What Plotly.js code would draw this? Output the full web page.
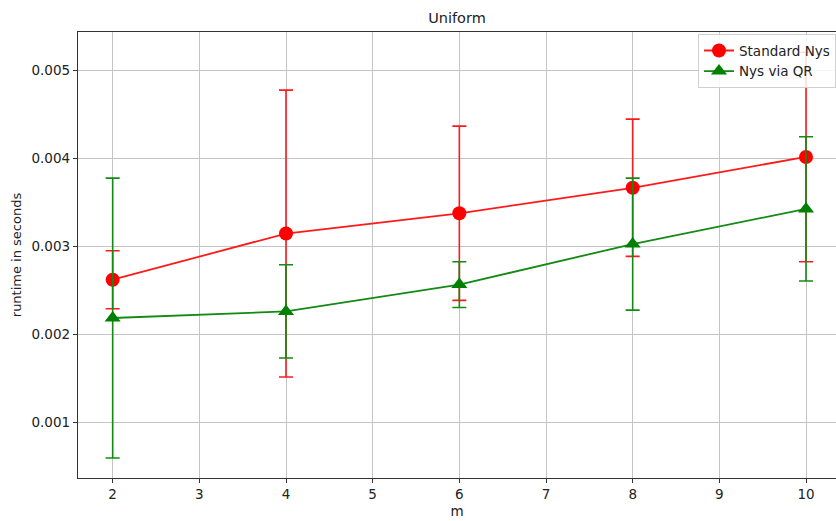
<!DOCTYPE html>
<html>
<head>
<meta charset="utf-8">
<script src="https://cdn.plot.ly/plotly-3.0.1.min.js"></script>
<style>html,body{margin:0;padding:0;background:#fff;}#chart{width:836px;height:521px;}</style>
</head>
<body>
<div id="chart"></div>
<script>
const m = [2, 4, 6, 8, 10];
const standardNys = [0.002625, 0.00315, 0.00338, 0.00367, 0.00402];
const standardNysErr = [0.00033, 0.00163, 0.00099, 0.00078, 0.00119];
const nysViaQR = [0.00219, 0.002265, 0.00257, 0.00303, 0.00343];
const nysViaQRErr = [0.00159, 0.00053, 0.00026, 0.00075, 0.00082];
const yTicks = [0.001, 0.002, 0.003, 0.004, 0.005];
const yTickLabels = ['0.001', '0.002', '0.003', '0.004', '0.005'];

const font = {family: 'DejaVu Sans, sans-serif', size: 13.5, color: '#222222'};

const traces = [
  {
    x: m, y: standardNys, name: 'Standard Nys', type: 'scatter', mode: 'lines+markers',
    line: {color: '#ff1a1a', width: 1.8},
    marker: {symbol: 'circle', size: 14, color: '#ff0000'},
    error_y: {type: 'data', array: standardNysErr, visible: true, color: '#ff1a1a', thickness: 1.6, width: 7}
  },
  {
    x: m, y: nysViaQR, name: 'Nys via QR', type: 'scatter', mode: 'lines+markers',
    line: {color: '#138a13', width: 1.8},
    marker: {symbol: 'triangle-up', size: 14, color: '#008000'},
    error_y: {type: 'data', array: nysViaQRErr, visible: true, color: '#138a13', thickness: 1.6, width: 7}
  }
];

const layout = {
  width: 836, height: 521,
  margin: {l: 78, r: 0, t: 32, b: 43},
  paper_bgcolor: '#ffffff', plot_bgcolor: '#ffffff',
  font: font,
  title: {text: 'Uniform', font: {family: font.family, size: 14.5, color: '#222222'}, x: 0.5, xanchor: 'center', xref: 'paper', y: 0.966, yanchor: 'middle'},
  showlegend: true,
  legend: {x: 1.0, y: 0.995, xanchor: 'right', yanchor: 'top', bgcolor: 'rgba(255,255,255,0.85)', bordercolor: '#d0d0d0', borderwidth: 1, font: {family: font.family, size: 13.5, color: '#222222'}, tracegroupgap: 0, itemwidth: 30},
  xaxis: {
    range: [1.6, 10.346], tickmode: 'array', tickvals: [2,3,4,5,6,7,8,9,10],
    showgrid: true, gridcolor: '#c4c4c4', gridwidth: 1,
    showline: true, linecolor: '#333333', linewidth: 1.2, mirror: true,
    ticks: 'outside', ticklen: 4, tickcolor: '#333333', zeroline: false,
    title: {text: 'm', font: {family: font.family, size: 13.5, color: '#222222'}, standoff: 5},
    tickfont: font
  },
  yaxis: {
    range: [0.000372, 0.00544], tickmode: 'array', tickvals: yTicks, ticktext: yTickLabels,
    showgrid: true, gridcolor: '#c4c4c4', gridwidth: 1,
    showline: true, linecolor: '#333333', linewidth: 1.2, mirror: true,
    ticks: 'outside', ticklen: 4, tickcolor: '#333333', zeroline: false,
    title: {text: 'runtime in seconds', font: {family: font.family, size: 13, color: '#222222'}, standoff: 6},
    tickfont: font
  }
};

Plotly.newPlot('chart', traces, layout, {displayModeBar: false, staticPlot: true});
</script>
</body>
</html>
